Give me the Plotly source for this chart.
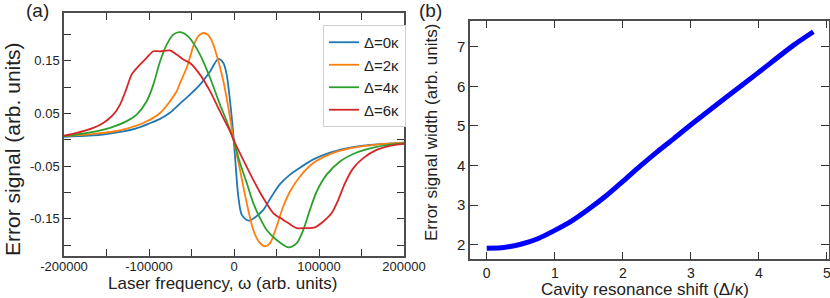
import plotly.graph_objects as go

# ---------------- Panel (a) data: error signals ----------------
blue_x = [-200000, -170000, -150000, -130000, -115000, -100000, -87000, -75000, -63500, -51800,
          -40000, -28200, -18400, -12500, -8600, -4700, -800, 1200, 5100, 9000, 15000, 18800,
          25000, 34500, 44000, 54100, 65900, 73800, 93300, 113000, 132600, 152000, 171800, 200000]
blue_y = [0.006, 0.008, 0.011, 0.016, 0.022, 0.031, 0.040, 0.052, 0.069, 0.086,
          0.105, 0.130, 0.154, 0.146, 0.124, 0.074, 0.010, -0.032, -0.108, -0.142, -0.152, -0.153,
          -0.147, -0.133, -0.108, -0.084, -0.066, -0.057, -0.037, -0.024, -0.016, -0.011, -0.008, -0.005]

orange_x = [-200000, -165500, -145000, -126200, -106700, -87000, -67400, -63500, -55700, -51800,
            -47800, -42000, -36100, -30200, -24300, -18400, -12500, -6600, -800, 7060, 15000,
            22700, 30600, 36500, 42400, 50200, 58000, 65900, 77600, 93300, 113000, 132600, 152000,
            171800, 200000]
orange_y = [0.007, 0.0114, 0.015, 0.0215, 0.032, 0.051, 0.0925, 0.108, 0.137, 0.157,
            0.178, 0.197, 0.203, 0.199, 0.181, 0.1495, 0.1115, 0.061, 0.004, -0.057, -0.120,
            -0.171, -0.196, -0.202, -0.196, -0.164, -0.126, -0.098, -0.0695, -0.044, -0.027, -0.0177, -0.012,
            -0.008, -0.005]

green_x = [-200000, -165500, -145900, -126200, -114500, -102700, -94900, -87000, -79200, -71400,
           -63500, -53800, -40000, -28200, -16500, -8600, -800, 7060, 15000, 22700, 30600, 38500,
           50200, 63900, 73800, 81500, 89400, 97300, 109000, 124700, 144300, 163900, 183500, 200000]
green_y = [0.007, 0.0153, 0.023, 0.0356, 0.048, 0.0735, 0.105, 0.149, 0.181, 0.200,
           0.2045, 0.196, 0.162, 0.118, 0.067, 0.0355, 0.0006, -0.044, -0.082, -0.120, -0.1485, -0.171,
           -0.190, -0.204, -0.196, -0.171, -0.1325, -0.098, -0.066, -0.041, -0.024, -0.0145, -0.009, -0.0066]

red_x = [-200000, -185000, -165500, -153800, -142000, -134100, -126200, -120400, -110600, -102700,
         -94900, -87000, -75300, -67400, -59600, -51800, -40000, -28200, -16500, -4700, 1200, 10900,
         22700, 34500, 46200, 58000, 63900, 73800, 83500, 95300, 105100, 114900, 122700, 130600,
         140400, 152100, 167800, 183500, 200000]
red_y = [0.0082, 0.0134, 0.023, 0.0323, 0.048, 0.067, 0.0987, 0.124, 0.143, 0.156,
         0.1684, 0.168, 0.170, 0.162, 0.1525, 0.146, 0.124, 0.0925, 0.054, 0.0165, -0.006, -0.038,
         -0.076, -0.1105, -0.139, -0.152, -0.158, -0.1675, -0.1675, -0.166, -0.155, -0.139, -0.1137, -0.082,
         -0.0536, -0.0346, -0.019, -0.0114, -0.0076]

series_names = ["Δ=0κ", "Δ=2κ", "Δ=4κ", "Δ=6κ"]
series_colors = ["#1f77b4", "#ff7f0e", "#2ca02c", "#d62728"]

# ---------------- Panel (b) data: error signal width ----------------
shift_x = [0, 0.25, 0.5, 0.75, 1.0, 1.25, 1.5, 1.75, 2.0, 2.25, 2.5, 2.75, 3.0, 3.5, 4.0, 4.5, 4.8]
width_y = [1.91, 1.93, 2.01, 2.15, 2.36, 2.6, 2.9, 3.23, 3.6, 3.98, 4.34, 4.68, 5.03, 5.7, 6.36, 7.03, 7.38]

# tick definitions
a_xticks = [-200000, -150000, -100000, -50000, 0, 50000, 100000, 150000, 200000]
a_xtext = ["-200000", "", "-100000", "", "0", "", "100000", "", "200000"]
a_yticks = [-0.2, -0.15, -0.1, -0.05, 0, 0.05, 0.1, 0.15, 0.2]
a_ytext = ["", "-0.15", "", "-0.05", "", "0.05", "", "0.15", ""]
b_xticks = [0, 1, 2, 3, 4, 5]
b_yticks = [2, 3, 4, 5, 6, 7]

W, H = 830, 298
FONT = "Liberation Sans, Arial, sans-serif"
AXC = "#4d4d4d"

fig = go.Figure()
for xs, ys, nm, col in zip([blue_x, orange_x, green_x, red_x],
                           [blue_y, orange_y, green_y, red_y],
                           series_names, series_colors):
    fig.add_trace(go.Scatter(x=xs, y=ys, name=nm, mode="lines",
                             line=dict(color=col, width=1.8, shape="spline", smoothing=0.8),
                             xaxis="x", yaxis="y"))

fig.add_trace(go.Scatter(x=shift_x, y=width_y, mode="lines", showlegend=False,
                         line=dict(color="#0000ff", width=5, shape="spline", smoothing=0.6),
                         xaxis="x2", yaxis="y2"))


def px(v):
    return v / W


def py(v):
    return 1 - v / H


def axis(size, ticklen, **kw):
    d = dict(showline=True, linecolor=AXC, linewidth=1.5, mirror="allticks", ticks="inside",
             tickcolor="#333333", tickwidth=1.2, ticklen=ticklen, showgrid=False, zeroline=False,
             automargin=False, tickmode="array", ticklabeloverflow="allow",
             tickfont=dict(family=FONT, size=size, color="#222222"))
    d.update(kw)
    return d


fig.update_layout(
    width=W, height=H, autosize=False, margin=dict(l=0, r=0, t=0, b=0, pad=0),
    paper_bgcolor="white", plot_bgcolor="white",
    font=dict(family=FONT, color="#222222"),
    xaxis=axis(13, 7, domain=[px(64), px(404)], range=[-200000, 200000],
               tickvals=a_xticks, ticktext=a_xtext, anchor="y", ticklabelstandoff=-2),
    yaxis=axis(13, 7, domain=[py(256), py(13)], range=[-0.2205, 0.241],
               tickvals=a_yticks, ticktext=a_ytext, anchor="x"),
    xaxis2=axis(14, 8, domain=[px(470), px(829)], range=[-0.246, 5.03],
                tickvals=b_xticks, ticktext=[str(v) for v in b_xticks], anchor="y2"),
    yaxis2=axis(15, 8, domain=[py(259.3), py(20.7)], range=[1.63, 7.66],
                tickvals=b_yticks, ticktext=[str(v) for v in b_yticks], anchor="x2"),
    legend=dict(x=px(323), y=py(25), xanchor="left", yanchor="top",
                bgcolor="white", bordercolor="#d0d0d0", borderwidth=1,
                font=dict(family=FONT, size=15, color="#222222"),
                tracegroupgap=0, itemwidth=30),
    showlegend=True,
)

ann = [
    dict(text="(a)", x=px(37), y=py(10.5), font=dict(size=19)),
    dict(text="(b)", x=px(430), y=py(10.5), font=dict(size=19)),
    dict(text="Laser frequency, ω (arb. units)", x=px(222), y=py(283), font=dict(size=17)),
    dict(text="Error signal (arb. units)", x=px(12), y=py(149), font=dict(size=21), textangle=-90),
    dict(text="Cavity resonance shift (Δ/κ)", x=px(645), y=py(289), font=dict(size=17)),
    dict(text="Error signal width (arb. units)", x=px(431), y=py(133), font=dict(size=17), textangle=-90),
]
for a in ann:
    a.update(xref="paper", yref="paper", showarrow=False, xanchor="center", yanchor="middle")
    a["font"] = dict(family=FONT, color="#222222", **a["font"])
fig.update_layout(annotations=ann)

fig.write_html("out.html", config={"displayModeBar": False},
               post_script="document.body.style.margin='0';")
